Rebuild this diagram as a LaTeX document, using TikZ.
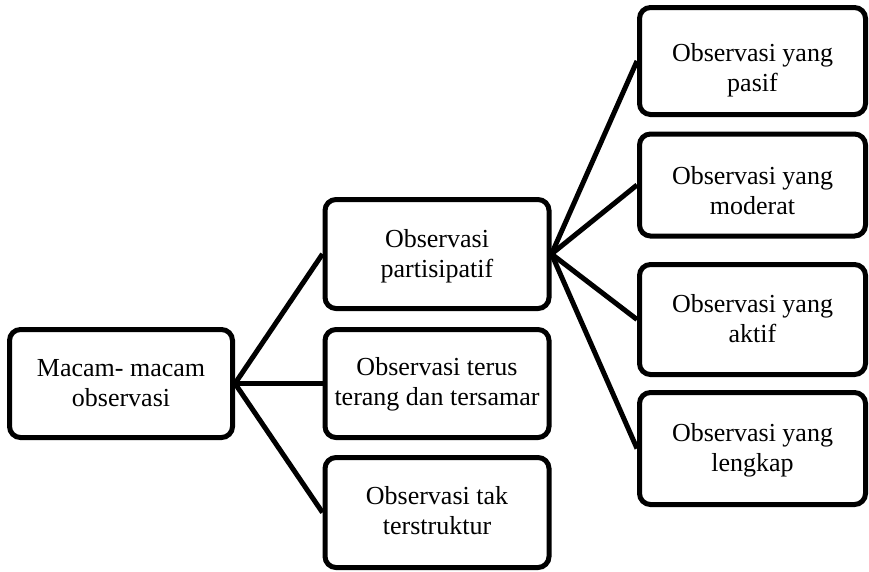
\documentclass[tikz,border=0pt]{standalone}
\usepackage{fontspec}
\setmainfont{Liberation Serif}
\newcommand{\lowtext}[3]{\begin{tabular}{@{}c@{}}\rule{0pt}{#1}#2\\#3\end{tabular}}
\begin{document}
\begin{tikzpicture}[x=1pt,y=-1pt,
  box/.style={draw=black,line width=5pt,rounded corners=11pt,align=center,
    inner sep=0pt,font=\fontsize{26}{30}\selectfont},
  link/.style={draw=black,line width=5pt}]
\useasboundingbox (0,0) rectangle (869,571);
\node[box,minimum width=223pt,minimum height=108pt] (L) at (121,383.5) {\lowtext{25pt}{Macam- macam}{observasi}};
\node[box,minimum width=224pt,minimum height=109pt] (M1) at (437,254) {\lowtext{25pt}{Observasi}{partisipatif}};
\node[box,minimum width=224pt,minimum height=108pt] (M2) at (437,383.5) {\lowtext{23pt}{Observasi terus}{terang dan tersamar}};
\node[box,minimum width=224pt,minimum height=110pt] (M3) at (437,512.5) {\lowtext{23pt}{Observasi tak}{terstruktur}};
\node[box,minimum width=226pt,minimum height=107pt] (R1) at (752.5,61) {\lowtext{39pt}{Observasi yang}{pasif}};
\node[box,minimum width=226pt,minimum height=102pt] (R2) at (752.5,185) {\lowtext{37pt}{Observasi yang}{moderat}};
\node[box,minimum width=226pt,minimum height=110pt] (R3) at (752.5,319.5) {\lowtext{25pt}{Observasi yang}{aktif}};
\node[box,minimum width=226pt,minimum height=112pt] (R4) at (752.5,448.5) {\lowtext{25pt}{Observasi yang}{lengkap}};
\draw[link] (L.east) -- (M1.west);
\draw[link] (L.east) -- (M2.west);
\draw[link] (L.east) -- (M3.west);
\draw[link] (M1.east) -- (R1.west);
\draw[link] (M1.east) -- (R2.west);
\draw[link] (M1.east) -- (R3.west);
\draw[link] (M1.east) -- (R4.west);
\end{tikzpicture}
\end{document}
